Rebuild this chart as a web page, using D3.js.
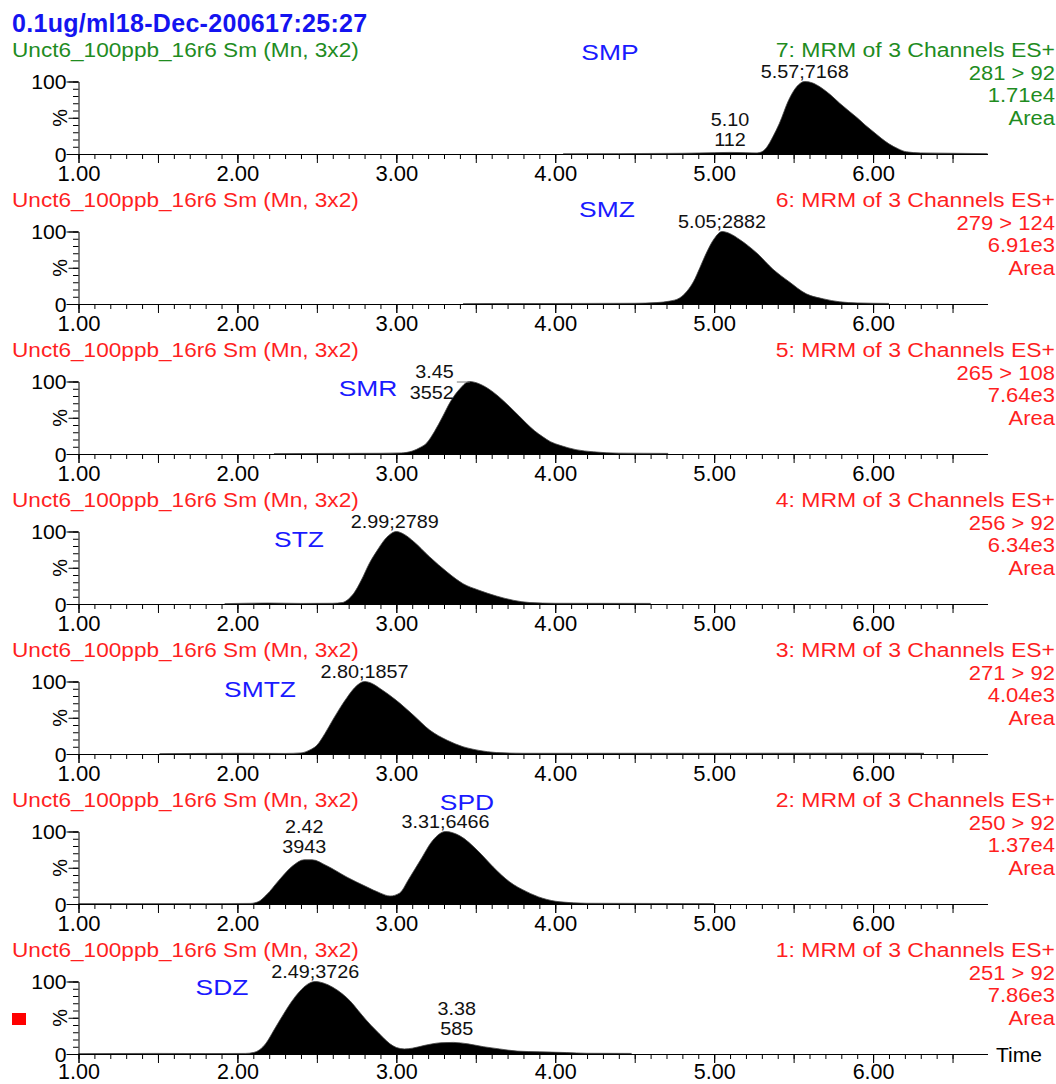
<!DOCTYPE html>
<html>
<head>
<meta charset="utf-8">
<script src="https://cdn.jsdelivr.net/npm/d3@7"></script>
<style>
  body { margin: 0; background: #fff; }
  text { font-family: "Liberation Sans", Arial, sans-serif; }
</style>
</head>
<body>
<svg id="chart"></svg>
<script>
// ---- data ----
const title = "0.1ug/ml18-Dec-200617:25:27";
const sampleName = "Unct6_100ppb_16r6 Sm (Mn, 3x2)";
const compounds = ["SMP", "SMZ", "SMR", "STZ", "SMTZ", "SPD", "SDZ"];
const channelIds = [7, 6, 5, 4, 3, 2, 1];
const transitions = ["281 > 92", "279 > 124", "265 > 108", "256 > 92", "271 > 92", "250 > 92", "251 > 92"];
const intensities = ["1.71e4", "6.91e3", "7.64e3", "6.34e3", "4.04e3", "1.37e4", "7.86e3"];
const xTickLabels = [1, 2, 3, 4, 5, 6];

// [time (min), relative intensity %]
const smpTrace = [[4.05,0.3],[4.4,0.5],[4.8,1],[5.0,1.8],[5.1,2.2],[5.2,1.8],[5.27,1.5],[5.3,3],[5.33,9],[5.37,24],[5.41,42],[5.47,75],[5.52,93],[5.57,100],[5.62,98],[5.67,92],[5.73,82],[5.79,70],[5.85,59],[5.9,50],[5.95,40],[6.0,31],[6.05,22],[6.1,14],[6.16,7],[6.21,3],[6.3,1.5],[6.5,1],[6.72,0.5]];
const smzTrace = [[3.42,0.5],[4.0,0.7],[4.5,1],[4.64,2],[4.72,4],[4.78,8],[4.83,18],[4.87,31],[4.91,50],[4.95,70],[5.0,90],[5.05,100],[5.1,97],[5.16,89],[5.27,70],[5.37,48],[5.47,31],[5.58,14],[5.69,7],[5.79,3],[5.9,1.5],[6.1,0.8]];
const smrTrace = [[2.23,0.5],[2.6,0.8],[2.9,1],[3.03,1.5],[3.1,4],[3.15,9],[3.19,15],[3.24,31],[3.29,51],[3.34,72],[3.4,90],[3.46,100],[3.52,97],[3.58,90],[3.64,80],[3.71,66],[3.77,53],[3.82,42],[3.87,32],[3.92,24],[3.97,17],[4.03,12],[4.13,6],[4.24,3],[4.4,1.2],[4.71,0.8]];
const stzTrace = [[1.92,0.5],[2.2,1.3],[2.4,0.8],[2.6,1],[2.66,2],[2.7,7],[2.73,14],[2.78,33],[2.83,56],[2.88,74],[2.92,87],[2.96,96],[3.0,100],[3.05,96],[3.11,86],[3.21,65],[3.32,44],[3.42,28],[3.52,19],[3.63,11],[3.74,5],[3.84,2],[4.0,1],[4.6,0.8]];
const smtzTrace = [[1.51,0.5],[2.0,1],[2.3,0.8],[2.4,1.5],[2.45,5],[2.5,12],[2.55,28],[2.6,47],[2.65,65],[2.69,78],[2.74,92],[2.8,100],[2.85,97],[2.9,90],[3.0,74],[3.11,53],[3.21,33],[3.32,19],[3.42,10],[3.52,5],[3.63,2],[3.8,1],[5.0,1],[6.0,1.2],[6.32,1]];
const spdTrace = [[1.0,0.5],[1.8,0.5],[2.08,0.8],[2.13,3],[2.18,12],[2.27,35],[2.35,53],[2.42,61],[2.47,61],[2.56,53],[2.69,37],[2.81,24],[2.9,15],[2.96,11],[3.02,15],[3.08,35],[3.15,60],[3.23,88],[3.31,100],[3.4,94],[3.51,74],[3.61,51],[3.71,31],[3.82,17],[3.92,8],[4.03,3],[4.2,1],[5.0,0.5]];
const sdzTrace = [[1.0,0.5],[1.5,0.8],[1.8,0.6],[2.05,0.8],[2.1,2],[2.14,6],[2.18,15],[2.23,33],[2.29,55],[2.34,72],[2.39,86],[2.44,96],[2.49,100],[2.54,98],[2.6,92],[2.66,83],[2.71,73],[2.76,60],[2.81,47],[2.87,33],[2.92,22],[2.96,14],[3.0,9],[3.05,7],[3.1,8],[3.18,12],[3.28,15.5],[3.36,16],[3.45,14],[3.55,10],[3.65,7],[3.76,4],[3.9,3],[4.07,2],[4.2,1],[4.48,0.8]];
const traces = [smpTrace, smzTrace, smrTrace, stzTrace, smtzTrace, spdTrace, sdzTrace];

const peakTimes = [[5.57, 5.10], [5.05], [3.45], [2.99], [2.80], [2.42, 3.31], [2.49, 3.38]];
const peakAreas = [[7168, 112], [2882], [3552], [2789], [1857], [3943, 6466], [3726, 585]];
const peakHeights = [[100, 2], [100], [100], [100], [100], [61, 100], [100, 16]];

// ---- layout ----
const width = 1056, height = 1084, rowH = 150;
const green = "#1f8c1f", red = "#ff1f1f", blue = "#1a1aff";
const headerColor = i => i === 0 ? green : red;
// compound label anchor (centre x, baseline y within the row)
const compoundPos = [[610, 60], [607, 67], [368, 96], [299, 97], [260, 97], [467, 60], [222, 95]];
// how each peak label is laid out: inline "t;area", stacked, or left of apex
const labelMode = { "0-1": "stack", "2-0": "left", "5-0": "stack", "6-1": "stack" };

// the original print uses a slightly wider face than Arial: stretch glyphs horizontally
const stretch = (sel, f) => sel.each(function () {
    const L = this.getComputedTextLength();
    d3.select(this).attr("textLength", L * f).attr("lengthAdjust", "spacingAndGlyphs");
});

const svg = d3.select("#chart").attr("width", width).attr("height", height);

const x = d3.scaleLinear().domain([1, 6.72]).range([78.5, 987.5]);
const y = d3.scaleLinear().domain([0, 100]).range([154, 81.5]);

svg.append("text")
    .attr("x", 12).attr("y", 32)
    .attr("fill", "#1414f0")
    .attr("font-weight", "bold")
    .attr("font-size", 25)
    .attr("letter-spacing", 0.3)
    .text(title);

const area = d3.area().x(d => x(d[0])).y0(y(0)).y1(d => y(d[1])).curve(d3.curveMonotoneX);
const line = d3.line().x(d => x(d[0])).y(d => y(d[1])).curve(d3.curveMonotoneX);

const xMinor = d3.range(10, 66).map(v => v / 10);
const xHalf = d3.range(2, 14).map(v => v / 2);
const yMinor = d3.range(0, 101, 10);

traces.forEach((trace, i) => {
    const g = svg.append("g").attr("transform", `translate(0,${i * rowH})`);
    const col = headerColor(i);
    const last = i === traces.length - 1;

    g.append("text")
        .attr("x", 12).attr("y", 57)
        .attr("fill", col).attr("font-size", 20)
        .text(sampleName)
        .call(stretch, 1.13);

    const right = [`${channelIds[i]}: MRM of 3 Channels ES+`, transitions[i], intensities[i], "Area"];
    const rightY = [57, 80, 102, 125];
    right.forEach((s, k) => {
        g.append("text")
            .attr("x", 1055).attr("y", rightY[k])
            .attr("text-anchor", "end")
            .attr("fill", col).attr("font-size", 20)
            .text(s)
            .call(stretch, k === 0 ? 1.15 : 1.1);
    });

    // trace
    g.append("path").datum(trace)
        .attr("d", area)
        .attr("fill", "#000");
    g.append("path").datum(trace)
        .attr("d", line)
        .attr("fill", "none")
        .attr("stroke", "#444")
        .attr("stroke-width", 0.8);

    // x axis
    const ax = g.append("g").attr("transform", `translate(0,${y(0)})`);
    ax.call(d3.axisBottom(x).tickValues(xMinor).tickSize(5).tickSizeOuter(0).tickFormat(""));
    ax.append("g")
        .call(d3.axisBottom(x).tickValues(xHalf).tickSize(9).tickSizeOuter(0).tickFormat(""))
        .call(a => a.select(".domain").remove());
    ax.append("g")
        .call(d3.axisBottom(x).tickValues(xTickLabels).tickSize(9).tickSizeOuter(0).tickFormat(d3.format(".2f")))
        .call(a => a.select(".domain").remove())
        .call(a => a.selectAll("text")
            .attr("y", last ? 25 : 27).attr("dy", null)
            .attr("font-size", last ? 21.5 : 22)
            .attr("font-family", "Liberation Sans, Arial, sans-serif")
            .attr("fill", "#000"));
    ax.attr("font-size", null).attr("font-family", null);

    // y axis
    const ay = g.append("g").attr("transform", `translate(${x(1)},0)`);
    ay.call(d3.axisLeft(y).tickValues(yMinor).tickSize(5.5).tickSizeOuter(0).tickFormat(""));
    ay.append("g")
        .call(d3.axisLeft(y).tickValues([0, 50, 100]).tickSize(10).tickSizeOuter(0).tickFormat(""))
        .call(a => a.select(".domain").remove());
    ay.append("g")
        .call(d3.axisLeft(y).tickValues([0, 100]).tickSize(12).tickSizeOuter(0).tickPadding(0))
        .call(a => a.select(".domain").remove())
        .call(a => a.selectAll("text")
            .attr("dy", "0.36em")
            .attr("font-size", 20)
            .attr("font-family", "Liberation Sans, Arial, sans-serif")
            .attr("fill", "#000")
            .call(stretch, 1.06));
    ay.attr("font-size", null).attr("font-family", null);

    g.append("text")
        .attr("transform", `translate(67,${(y(0) + y(100)) / 2}) rotate(-90)`)
        .attr("text-anchor", "middle")
        .attr("font-size", 20)
        .text("%");

    // compound name
    g.append("text")
        .attr("x", compoundPos[i][0]).attr("y", compoundPos[i][1])
        .attr("text-anchor", "middle")
        .attr("fill", blue).attr("font-size", 22)
        .text(compounds[i])
        .call(stretch, 1.2);

    // peak labels
    const peakText = (tx, ty, anchor, s) => g.append("text")
        .attr("x", tx).attr("y", ty).attr("text-anchor", anchor)
        .attr("font-size", 18.5).attr("fill", "#111")
        .text(s)
        .call(stretch, 1.07);

    peakTimes[i].forEach((t, k) => {
        const mode = labelMode[`${i}-${k}`] || "inline";
        const px = x(t), py = y(peakHeights[i][k]);
        if (mode === "inline") {
            peakText(px, py - 3.5, "middle", `${t.toFixed(2)};${peakAreas[i][k]}`);
        } else if (mode === "stack") {
            peakText(px, py - 27, "middle", t.toFixed(2));
            peakText(px, py - 7, "middle", peakAreas[i][k]);
        } else {
            peakText(px - 14, py - 3.5, "end", t.toFixed(2));
            peakText(px - 14, py + 17.5, "end", peakAreas[i][k]);
            g.append("line")
                .attr("x1", px - 11).attr("x2", px + 2)
                .attr("y1", py + 0.5).attr("y2", py + 0.5)
                .attr("stroke", "#777").attr("stroke-width", 1);
        }
    });

    if (last) {
        g.append("text")
            .attr("x", 996).attr("y", 162)
            .attr("font-size", 21)
            .text("Time");
        g.append("rect")
            .attr("x", 12).attr("y", 113)
            .attr("width", 14).attr("height", 12)
            .attr("fill", "#ff0000");
    }
});
</script>
</body>
</html>
